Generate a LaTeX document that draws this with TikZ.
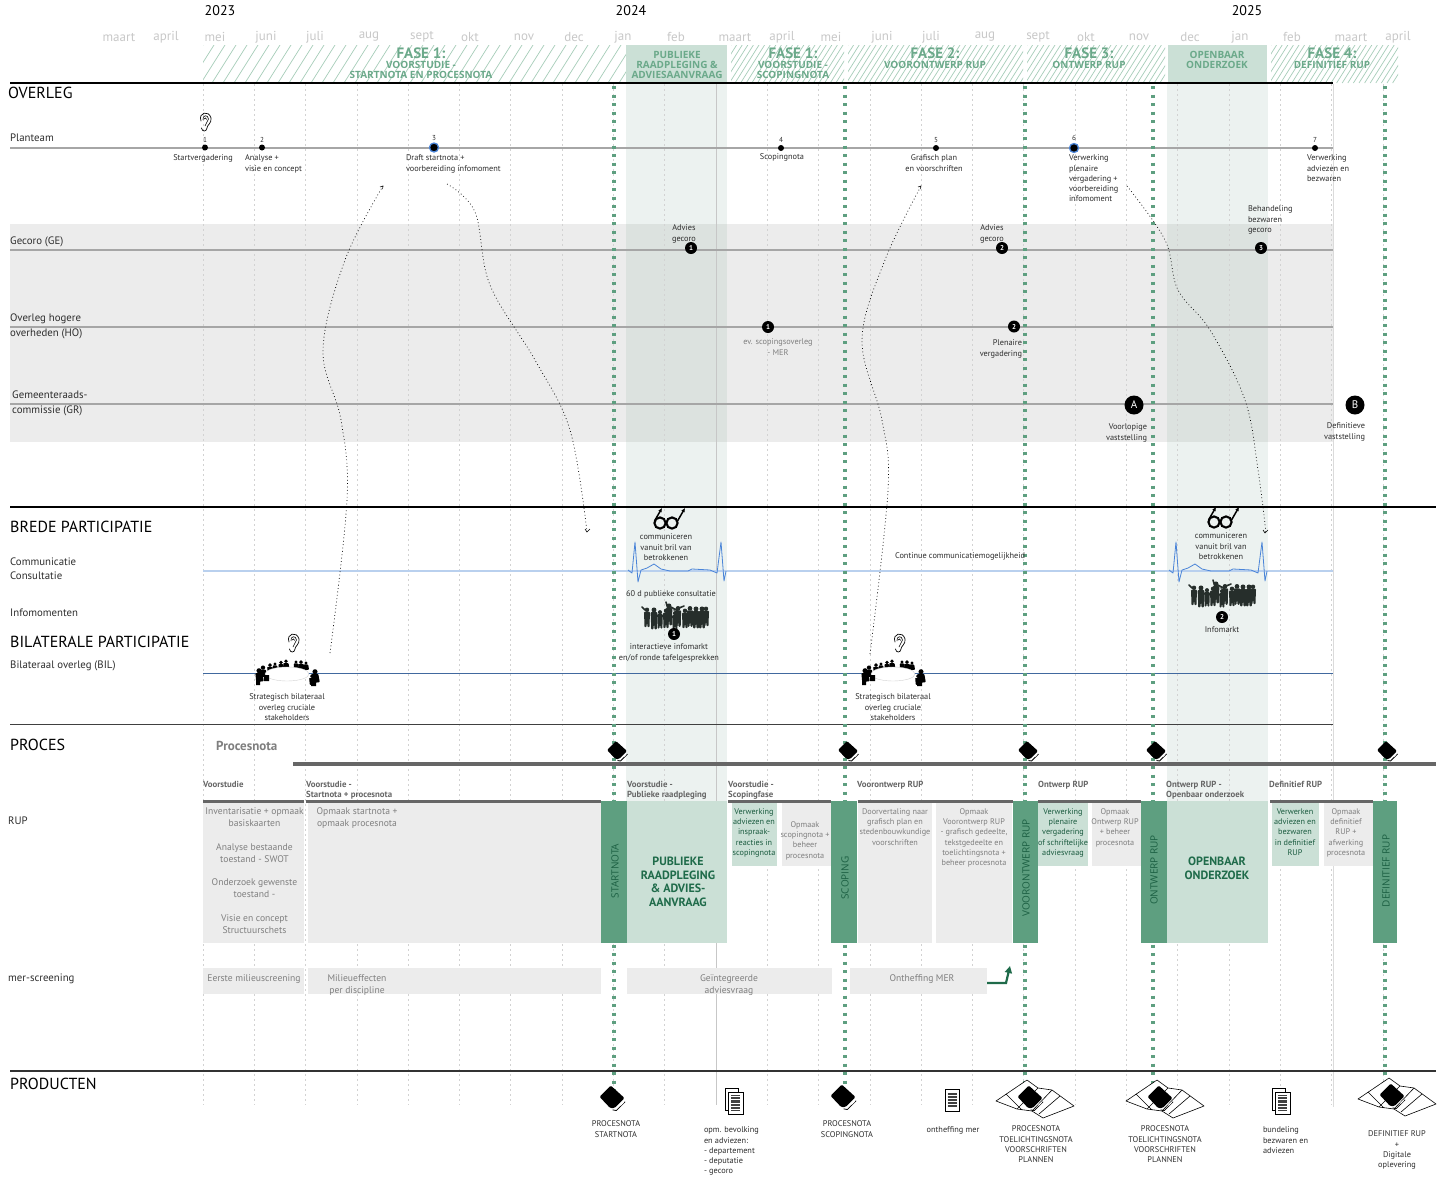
\documentclass[tikz,border=0pt]{standalone}
\usepackage{fontspec}
\setmainfont{PT Sans}
\newfontfamily\widefont{Open Sans}
\usetikzlibrary{arrows.meta}
\definecolor{gridc}{HTML}{D2D2D2}
\definecolor{monthc}{HTML}{C8C8C8}
\definecolor{greenD}{HTML}{5E9F80}
\definecolor{greenT}{HTML}{6BA98A}
\definecolor{greenX}{HTML}{1F6B4A}
\definecolor{greenL}{HTML}{CBE0D6}
\definecolor{hatchc}{HTML}{A6CDB9}
\definecolor{greyB}{HTML}{ECECEC}
\definecolor{lineG}{HTML}{A6A6A6}
\definecolor{barG}{HTML}{666666}
\definecolor{txtG}{HTML}{7F7F7F}
\definecolor{txtK}{HTML}{2E2E2E}
\definecolor{blueL}{HTML}{B9D0EE}
\definecolor{blueD}{HTML}{4A84D8}
\definecolor{blueB}{HTML}{41699F}
\definecolor{silh}{HTML}{262E2B}
\definecolor{colS}{HTML}{73A08C}
\tikzset{
 lbl/.style={inner sep=0pt,outer sep=0pt,align=center,text=txtK,font=\fontsize{8.3}{10.2}\selectfont},
 lblL/.style={lbl,align=left,anchor=north west,yshift=-2pt},
 lblC/.style={lbl,anchor=north,yshift=-2pt},
 head/.style={inner sep=0pt,anchor=west,text=black,font=\fontsize{16}{18}\selectfont},
 rowlbl/.style={inner sep=0pt,anchor=north west,align=left,text=txtK,font=\fontsize{10.8}{15.5}\selectfont},
 month/.style={inner sep=0pt,text=monthc,font=\fontsize{13}{15}\selectfont},
 year/.style={inner sep=0pt,text=black,font=\fontsize{14}{16}\selectfont},
 fase/.style={inner sep=0pt,text=greenT,font=\bfseries\fontsize{15}{16}\selectfont},
 fasesub/.style={inner sep=0pt,align=center,text=greenT,font=\widefont\bfseries\fontsize{10}{10}\selectfont},
 fasebox/.style={inner sep=0pt,align=center,text=greenT,font=\widefont\bfseries\fontsize{10}{10}\selectfont},
 rule/.style={draw=black,line width=1.3pt},
 track/.style={draw=lineG,line width=1.6pt},
 gridl/.style={draw=gridc,line width=.7pt,dash pattern=on 1.8pt off 3.2pt},
 gate/.style={draw=greenD,line width=3.4pt,dash pattern=on 3pt off 5.5pt},
 dotn/.style={circle,fill=black,inner sep=0pt,minimum size=6pt},
 ring/.style={circle,fill=black,draw=blueD,line width=1.3pt,inner sep=0pt,minimum size=9pt},
 numc/.style={circle,fill=black,inner sep=0pt,minimum size=12pt,text=white,font=\bfseries\fontsize{7}{8}\selectfont},
 bigc/.style={circle,fill=black,inner sep=0pt,minimum size=19pt,text=white,font=\fontsize{11}{12}\selectfont},
 wander/.style={draw=black,line width=.7pt,dash pattern=on .8pt off 2.6pt,smooth,tension=.6},
 phasehd/.style={inner sep=0pt,anchor=north west,align=left,text=barG,font=\bfseries\fontsize{8.8}{10}\selectfont},
 boxG/.style={fill=greyB,draw=none},
 boxL/.style={fill=greenL,draw=none},
 boxD/.style={fill=greenD,draw=none},
 boxtxt/.style={inner sep=0pt,anchor=north,align=center,text=txtG,yshift=-2.5pt,font=\fontsize{8.2}{10.2}\selectfont},
 boxtxtBig/.style={boxtxt,font=\fontsize{9.6}{12}\selectfont},
 boxtxtG/.style={boxtxt,text=greenX!85!black},
 rotl/.style={inner sep=0pt,rotate=90,text=greenX!90!black,font=\widefont\fontsize{10}{11}\selectfont},
 bigl/.style={inner sep=0pt,align=center,text=greenX,font=\bfseries\fontsize{12}{13.6}\selectfont},
 barh/.style={fill=barG,draw=none},
 book/.pic={
   \fill[black,rounded corners=1.2pt] (-10,-1)--(-1,-10)--(10,0)--(2,8)--(-1.5,8)--cycle;
   \draw[black,line width=.8pt] (0.5,9.5)--(3.5,10)--(10.5,3);
   \fill[white] (6.5,5.5)--(9,3)--(9.5,3.7)--(7,6.2)--cycle;
 },
 mapfold/.pic={
   \draw[black,fill=white,line width=.6pt,line join=round] (-34,3)--(-3,-18)--(8,-10)--(22,-8)--(44,8)--(13,20)--(2,13)--(-13,11)--cycle;
   \draw[black,line width=.6pt] (8,-10)--(-13,11) (22,-8)--(2,13);
   \draw[black,line width=.6pt] (-24,-4)--(-8,12) (30,-2)--(9,16);
 },
 docsheet/.pic={
   \draw[black,fill=white,line width=.6pt] (-7,-11) rectangle (7,11);
   \foreach \v in {-7,-5.4,-4,-2.2,-.8,.6,2.2,3.6,5,6.4}{\draw[black!75,line width=.8pt] (-4.5,\v)--(4.5,\v);}
 },
 docstack/.pic={
   \draw[black,fill=white,line width=.6pt] (-10,-14) rectangle (3,8);
   \draw[black,fill=white,line width=.6pt] (-7,-10) rectangle (8,12);
   \foreach \v in {-6.5,-5,-3.6,-2,-.6,.8,2.4,3.8,5.2,6.8,8.2}{\draw[black!75,line width=.8pt] (-4.2,\v)--(5.2,\v);}
 },
 eargl/.pic={
   \draw[black,line width=.7pt,line cap=round] (-4,-1) .. controls (-7,-10) and (4,-12) .. (6,-4) .. controls (7,1) and (2,3) .. (2,6) .. controls (1.5,10) and (-3,10) .. (-3.5,6);
   \draw[black,line width=.6pt] (-2,-2) .. controls (-3,-7) and (3,-8) .. (3.5,-3) .. controls (3.5,0) and (0,1) .. (0,4);
   \draw[black,line width=.6pt] (-1,-3) .. controls (0,-5) and (1.5,-4) .. (1.5,-2.5);
 },
 specs/.pic={
   \draw[black,line width=2.1pt] (-6,0) circle (5.6) (6,0) circle (5.6);
   \draw[black,line width=1.5pt] (-.5,-1)--(.5,-1);
   \draw[black,line width=1.5pt,-{Latex[length=4pt,width=4pt]}] (-11.5,-2)--(-4,-15);
   \draw[black,line width=1.5pt,-{Latex[length=4pt,width=4pt]}] (11.5,-2)--(19,-15);
 },
 figure/.pic={
   \fill[silh] (0,-8.5) circle (2.6);
   \fill[silh,rounded corners=1pt] (-3.6,-6.2)--(3.6,-6.2)--(3.2,3)--(3,12)--(.6,12)--(0,5)--(-.6,12)--(-3,12)--(-3.2,3)--cycle;
 },
 crowd/.pic={
   \foreach \px/\py/\ps in {-28/1/.85,-21/2/.95,-15/3/.8,-9/2/.85,-6/-2/.95,0/4/.8,3/0/.9,10/2/.85,15/0/.9,21/1/.95,27/1/.95,31/0/.85}{
     \pic[scale=\ps] at (\px,\py) {figure};
   }
   \draw[silh,line width=1.6pt,line cap=round] (-30,-6)--(-33,-9) (-7,-7)--(-9,-14) (-1,-6)--(9,-10) (3,-5)--(-4,-9);
 },
 sitter/.pic={
   \fill[black] (0,-4.5) circle (1.8);
   \fill[black,rounded corners=.8pt] (-2.6,-2.8)--(2.4,-2.8)--(3.4,3)--(-2,3.6)--cycle;
 },
 meet/.pic={
   \foreach \px/\py/\ps in {-28/5/1.4,-24/1/1.2,-17/-2/1.1,-12/-4/.9,-6/-5/1,-1/-6/1.05,9/-6/.9,14/-5/1.1,19/-5/.9,28/6/1.4,25/9/1.1}{
     \pic[scale=\ps] at (\px,\py) {sitter};
   }
   \draw[gridc,fill=white,line width=.4pt] (0,2) ellipse (22 and 7);
   \fill[black] (-31,5) rectangle (-27,13) (-23,3) rectangle (-18,9) (24,7) rectangle (29,14);
 }
}
\begin{document}
\begin{tikzpicture}[x=1pt,y=-1pt]
\useasboundingbox (0,0) rectangle (1438,1176);
\fill[white] (0,0) rectangle (1438,1176);

% pale column shading and grey band
\fill[greyB] (10,224) rectangle (1333,442);
\fill[fill=colS,fill opacity=.13] (626,83) rectangle (727,801);
\fill[fill=colS,fill opacity=.13] (1167,83) rectangle (1268,801);

% month grid
\foreach \g in {0,...,23}{\draw[gridl] ({203+51.3*\g},84)--({203+51.3*\g},1105);}
\draw[draw=black!22,line width=.7pt] (716,84)--(716,1105);
\draw[draw=black!14,line width=1pt] (1333,84)--(1333,1107);

% hatching
\foreach \a/\b/\s in {203/626/11,731/844/5.6,848/1023/5.6,1027/1165/5.6,1271/1398/5.6}{
 \begin{scope}
  \clip (\a,45) rectangle (\b,83);
  \pgfmathsetmacro{\st}{\a-24}\pgfmathsetmacro{\nx}{\a-24+\s}
  \foreach \h in {\st,\nx,...,\b}{\draw[draw=hatchc,line width=.7pt] (\h,83)--({\h+24},45);}
 \end{scope}
}
\fill[greenL] (626,45) rectangle (727,83);
\fill[greenL] (1168,45) rectangle (1267,83);

% years and months
\node[year] (y23) at (220,11) {2023};
\node[year] (y24) at (631,11) {2024};
\node[year] (y25) at (1247,11) {2025};
\foreach \m/\x/\yy in {maart/119/38,april/166/37,mei/215/37,juni/266/37,juli/315/37,aug/369/37,sept/422/37,okt/470/37,nov/524/37,dec/574/37,jan/623/37,feb/676/37,maart/735/38,april/782/37,mei/831/37,juni/882/37,juli/931/37,aug/985/37,sept/1038/37,okt/1086/37,nov/1139/37,dec/1190/37,jan/1240/37,feb/1292/37,maart/1351/38,april/1398/37}{
 \node[month] (m\x) at (\x,\yy) {\m};
}

% phase headers
\node[fase] (f1) at (421,53) {FASE 1:};
\node[fasesub] (f1s) at (421,70) {VOORSTUDIE -\\STARTNOTA EN PROCESNOTA};
\node[fasebox] (fpr) at (677,65) {PUBLIEKE\\RAADPLEGING \&\\ADVIESAANVRAAG};
\node[fase] (f1b) at (793,53) {FASE 1:};
\node[fasesub] (f1bs) at (793,70) {VOORSTUDIE -\\SCOPINGNOTA};
\node[fase] (f2) at (935,53) {FASE 2:};
\node[fasesub] (f2s) at (935,65) {VOORONTWERP RUP};
\node[fase] (f3) at (1089,53) {FASE 3:};
\node[fasesub] (f3s) at (1089,65) {ONTWERP RUP};
\node[fasebox] (fov) at (1217,60) {OPENBAAR\\ONDERZOEK};
\node[fase] (f4) at (1332,53) {FASE 4:};
\node[fasesub] (f4s) at (1332,65) {DEFINITIEF RUP};

% section rules
\coordinate (r1a) at (10,83); \coordinate (r1b) at (1333,83);
\coordinate (r2a) at (10,507); \coordinate (r2b) at (1436,507);
\coordinate (r3a) at (10,724.5); \coordinate (r3b) at (1333,724.5);
\coordinate (r4a) at (10,1071); \coordinate (r4b) at (1436,1071);
\draw[rule,line width=1.6pt] (r1a)--(r1b);
\draw[rule] (r2a)--(r2b);
\draw[rule,draw=black!75,line width=1.6pt] (r3a)--(r3b);
\draw[rule,draw=black!80,line width=1.6pt] (r4a)--(r4b);

% tracks
\coordinate (t1a) at (10,148); \coordinate (t1b) at (1333,148);
\coordinate (t2a) at (10,250); \coordinate (t2b) at (1333,250);
\coordinate (t3a) at (10,327); \coordinate (t3b) at (1333,327);
\coordinate (t4a) at (10,404); \coordinate (t4b) at (1333,404);
\draw[track] (t1a)--(t1b);
\draw[track] (t2a)--(t2b);
\draw[track] (t3a)--(t3b);
\draw[track] (t4a)--(t4b);
\coordinate (bla) at (203,571); \coordinate (blb) at (1333,571);
\draw[draw=blueL,line width=1.2pt] (bla)--(blb);
\coordinate (bila) at (203,673.5); \coordinate (bilb) at (1333,673.5);
\draw[draw=blueB,line width=.7pt] (bila)--(bilb);

% ECG pulses
\foreach \d in {0,541}{
 \begin{scope}[xshift=\d]
 \draw[draw=blueD,line width=.8pt,line join=round] (628,570)--(632,573)--(635,542)--(638,582)--(641,570)--(647,568)--(654,564)--(661,569)--(670,571)--(688,571)--(692,569)--(710,570)--(717,573)--(721,542)--(724,581)--(726,571);
 \end{scope}
}

% green gates
\foreach \n/\x in {ga/614,gb/845,gc/1025,gd/1153,ge/1385}{
 \coordinate (\n t) at (\x,86); \coordinate (\n b) at (\x,1095);
 \draw[gate] (\n t)--(\n b);
}

% section headings and row labels
\node[head] (hOv) at (8,93) {OVERLEG};
\node[head] (hBr) at (10,527) {BREDE PARTICIPATIE};
\node[head] (hBi) at (10,642) {BILATERALE PARTICIPATIE};
\node[head] (hPr) at (10,745) {PROCES};
\node[head] (hPd) at (10,1084) {PRODUCTEN};
\node[rowlbl] (rPl) at (10,133.5) {Planteam};
\node[rowlbl] (rGe) at (10,236.5) {Gecoro (GE)};
\node[rowlbl] (rHo) at (10,313.5) {Overleg hogere\\overheden (HO)};
\node[rowlbl] (rGr) at (12,390.5) {Gemeenteraads-\\commissie (GR)};
\node[rowlbl,font=\fontsize{10.8}{14}\selectfont] (rCo) at (10,557.5) {Communicatie\\Consultatie};
\node[rowlbl] (rIn) at (10,608.5) {Infomomenten};
\node[rowlbl] (rBi) at (10,660.5) {Bilateraal overleg (BIL)};
\node[rowlbl] (rRu) at (8,816.5) {RUP};
\node[rowlbl] (rMe) at (8,973.5) {mer-screening};

% planteam
\pic at (205,122) {eargl};
\node[dotn] (p1) at (205,147.5) {};
\node[dotn] (p2) at (262,147.5) {};
\node[ring] (p3) at (434,147.5) {};
\node[dotn] (p4) at (781,148) {};
\node[dotn] (p5) at (936,148) {};
\node[ring] (p6) at (1074,148) {};
\node[dotn] (p7) at (1315,148) {};
\foreach \pp/\nr in {p1/1,p2/2,p3/3,p4/4,p5/5,p6/6,p7/7}{
 \node[lbl,anchor=south,font=\fontsize{7.2}{8}\selectfont,yshift=2pt] (\pp n) at (\pp.north) {\nr};
}
\node[lblC] (pl1) at (203,153) {Startvergadering};
\node[lblL] (pl2) at (245,153) {Analyse +\\visie en concept};
\node[lblL] (pl3) at (406,153) {Draft startnota +\\voorbereiding infomoment};
\node[lblC] (pl4) at (782,152) {Scopingnota};
\node[lblC] (pl5) at (934,153) {Grafisch plan\\en voorschriften};
\node[lblL] (pl6) at (1069,153) {Verwerking\\plenaire\\vergadering +\\voorbereiding\\infomoment};
\node[lblL] (pl7) at (1307,153) {Verwerking\\adviezen en\\bezwaren};

% gecoro, HO, GR
\node[numc] (ge1) at (691,248) {1};
\node[numc] (ge2) at (1002,248) {2};
\node[numc] (ge3) at (1261,248) {3};
\node[lblC] (gl1) at (684,223) {Advies\\gecoro};
\node[lblC] (gl2) at (992,223) {Advies\\gecoro};
\node[lblL] (gl3) at (1248,204) {Behandeling\\bezwaren\\gecoro};
\node[numc] (ho1) at (768,327) {1};
\node[numc] (ho2) at (1014,326.5) {2};
\node[lblC,text=txtG] (hl1) at (778,337) {ev. scopingsoverleg\\- MER};
\node[lblC,align=right,anchor=north east] (hl2) at (1022,338) {Plenaire\\vergadering};
\node[bigc] (gr1) at (1134,405) {A};
\node[bigc] (gr2) at (1355,405) {B};
\node[lblC,align=right,anchor=north east] (grl1) at (1147,422) {Voorlopige\\vaststelling};
\node[lblC,align=right,anchor=north east] (grl2) at (1365,421) {Definitieve\\vaststelling};

% wandering dotted arrows
\coordinate (w1s) at (330,653); \coordinate (w1e) at (383,186);
\coordinate (w2s) at (447,184); \coordinate (w2e) at (587,532);
\coordinate (w3s) at (870,654); \coordinate (w3e) at (921,186);
\coordinate (w4s) at (1127,186); \coordinate (w4e) at (1266,533);
\draw[wander] plot coordinates {(w1s) (347,500) (341,420) (323,350) (345,260) (w1e)};
\draw[wander] plot coordinates {(w2s) (475,212) (490,285) (535,360) (570,430) (w2e)};
\draw[wander] plot coordinates {(w3s) (888,490) (882,420) (862,340) (885,260) (w3e)};
\draw[wander] plot coordinates {(w4s) (1165,240) (1178,290) (1210,330) (1245,400) (1258,470) (w4e)};
\draw[black,line width=.5pt] (380,187)--(383,186)--(382.5,189);
\draw[black,line width=.5pt] (918,187)--(921,186)--(920.5,189);
\draw[black,line width=.6pt] (585,529)--(587,532)--(590,529);
\draw[black,line width=.6pt] (1263,530)--(1265,533)--(1268,530);

% brede participatie
\pic at (666,523) {specs};
\pic at (1220,522) {specs};
\node[lblC] (bp1) at (666,532) {communiceren\\vanuit bril van\\betrokkenen};
\node[lblC] (bp2) at (1221,531) {communiceren\\vanuit bril van\\betrokkenen};
\node[lblC] (bp3) at (671,589) {60 d publieke consultatie};
\node[lblC] (bp4) at (960,551) {Continue communicatiemogelijkheid};
\pic at (675,616) {crowd};
\pic at (1222,594) {crowd};
\node[numc] (in1) at (674,634) {1};
\node[numc] (in2) at (1222,617) {2};
\node[lblC] (inl1) at (669,642) {interactieve infomarkt\\en/of ronde tafelgesprekken};
\node[lblC] (inl2) at (1222,625) {Infomarkt};

% bilateraal
\pic at (293,643) {eargl};
\pic at (899,643) {eargl};
\pic at (287,672) {meet};
\pic at (893,672) {meet};
\node[lblC] (bi1) at (287,692) {Strategisch bilateraal\\overleg cruciale\\stakeholders};
\node[lblC] (bi2) at (893,692) {Strategisch bilateraal\\overleg cruciale\\stakeholders};

% procesnota
\node[inner sep=0pt,anchor=west,text=txtG,font=\bfseries\fontsize{13}{15}\selectfont] (pn) at (216,746) {Procesnota};
\fill[barG] (293,761.5) rectangle (1436,765.5);
\foreach \x in {617,848,1028,1156,1387}{\pic at (\x,751) {book};}

% RUP header texts
\node[phasehd] (h1) at (203,781) {Voorstudie};
\node[phasehd] (h2) at (306,781) {Voorstudie -\\Startnota + procesnota};
\node[phasehd] (h3) at (627,781) {Voorstudie -\\Publieke raadpleging};
\node[phasehd] (h4) at (728,781) {Voorstudie -\\Scopingfase};
\node[phasehd] (h5) at (857,781) {Voorontwerp RUP};
\node[phasehd] (h6) at (1038,781) {Ontwerp RUP};
\node[phasehd] (h7) at (1166,781) {Ontwerp RUP -\\Openbaar onderzoek};
\node[phasehd] (h8) at (1269,781) {Definitief RUP};

% RUP boxes
\fill[boxG] (203,803) rectangle (304,943);
\fill[boxG] (308,803) rectangle (601,943);
\fill[boxL] (627,801) rectangle (727,943);
\fill[boxL] (731.5,803) rectangle (777,866);
\fill[boxG] (781.5,803) rectangle (831,866);
\fill[boxG] (858,803) rectangle (932,943);
\fill[boxG] (936,803) rectangle (1012,943);
\fill[boxL] (1038,803) rectangle (1088,866);
\fill[boxG] (1092,803) rectangle (1141,866);
\fill[boxL] (1167,801) rectangle (1268,943);
\fill[boxL] (1272,803) rectangle (1319,866);
\fill[boxG] (1324,803) rectangle (1373,866);
\foreach \a/\b in {203/304,306/601,728/831,858/1013,1038/1141,1270/1373}{\fill[barh] (\a,799.5) rectangle (\b,803);}
\foreach \a/\b in {601/627,831/857,1013/1038,1141/1167,1373/1397}{\fill[boxD] (\a,801) rectangle (\b,943);}
\node[rotl] (sS) at (615,871) {STARTNOTA};
\node[rotl] (sC) at (845,878) {SCOPING};
\node[rotl] (sV) at (1026,868) {VOORONTWERP RUP};
\node[rotl] (sO) at (1154,870) {ONTWERP RUP};
\node[rotl] (sD) at (1386,871) {DEFINITIEF RUP};
\node[bigl] (bP) at (678,882) {PUBLIEKE\\RAADPLEGING\\\& ADVIES-\\AANVRAAG};
\node[bigl] (bO) at (1217,868.5) {OPENBAAR\\ONDERZOEK};

\node[boxtxtBig] (bx1) at (254.5,805) {Inventarisatie + opmaak\\basiskaarten\\[11.5pt]Analyse bestaande\\toestand - SWOT\\[11.5pt]Onderzoek gewenste\\toestand -\\[11.5pt]Visie en concept\\Structuurschets};
\node[boxtxtBig] (bx2) at (357,805) {Opmaak startnota +\\opmaak procesnota};
\node[boxtxtG] (bx3) at (754,806) {Verwerking\\adviezen en\\inspraak-\\reacties in\\scopingnota};
\node[boxtxt] (bx4) at (805,819) {Opmaak\\scopingnota +\\beheer\\procesnota};
\node[boxtxt] (bx5) at (895,806) {Doorvertaling naar\\grafisch plan en\\stedenbouwkundige\\voorschriften};
\node[boxtxt] (bx6) at (974,806) {Opmaak\\Voorontwerp RUP\\- grafisch gedeelte,\\tekstgedeelte en\\toelichtingsnota +\\beheer procesnota};
\node[boxtxtG] (bx7) at (1063,806) {Verwerking\\plenaire\\vergadering\\of schriftelijke\\adviesvraag};
\node[boxtxt] (bx8) at (1115,806) {Opmaak\\Ontwerp RUP\\+ beheer\\procesnota};
\node[boxtxtG] (bx9) at (1295,806) {Verwerken\\adviezen en\\bezwaren\\in definitief\\RUP};
\node[boxtxt] (bx10) at (1346,806) {Opmaak\\definitief\\RUP +\\afwerking\\procesnota};

% mer-screening
\fill[boxG] (203,968) rectangle (304,994);
\fill[boxG] (308,968) rectangle (601,994);
\fill[boxG] (627,968) rectangle (832,994);
\fill[boxG] (850,968) rectangle (987,994);
\node[boxtxtBig] (mr1) at (254,971.5) {Eerste milieuscreening};
\node[boxtxtBig] (mr2) at (357,971.5) {Milieueffecten\\per discipline};
\node[boxtxtBig] (mr3) at (729,971.5) {Geïntegreerde\\adviesvraag};
\node[boxtxtBig] (mr4) at (922,971.5) {Ontheffing MER};
\coordinate (maS) at (987,983); \coordinate (maK) at (1006,983); \coordinate (maE) at (1010,966);
\draw[draw=greenX,line width=2.2pt,-{Triangle[length=7pt,width=7pt]}] (maS)--(maK)--(maE);

% products
\pic[scale=1.25] at (612,1098) {book};
\pic at (735,1102) {docstack};
\pic[scale=1.25] at (843,1097) {book};
\pic at (952,1100) {docsheet};
\pic at (1030,1098) {mapfold};
\pic[scale=1.25] at (1030,1098) {book};
\pic at (1160,1098) {mapfold};
\pic[scale=1.25] at (1160,1098) {book};
\pic at (1282,1102) {docstack};
\pic at (1392,1096) {mapfold};
\pic[scale=1.25] at (1392,1096) {book};
\node[lblC] (pr1) at (616,1119) {PROCESNOTA\\STARTNOTA};
\node[lblL] (pr2) at (704,1125) {opm. bevolking\\en adviezen:\\- departement\\- deputatie\\- gecoro};
\node[lblC] (pr3) at (847,1119) {PROCESNOTA\\SCOPINGNOTA};
\node[lblC] (pr4) at (953,1125) {ontheffing mer};
\node[lblC] (pr5) at (1036,1124) {PROCESNOTA\\TOELICHTINGSNOTA\\VOORSCHRIFTEN\\PLANNEN};
\node[lblC] (pr6) at (1165,1124) {PROCESNOTA\\TOELICHTINGSNOTA\\VOORSCHRIFTEN\\PLANNEN};
\node[lblL] (pr7) at (1263,1125) {bundeling\\bezwaren en\\adviezen};
\node[lblC] (pr8) at (1397,1129) {DEFINITIEF RUP\\+\\Digitale\\oplevering};
\end{tikzpicture}
\end{document}
